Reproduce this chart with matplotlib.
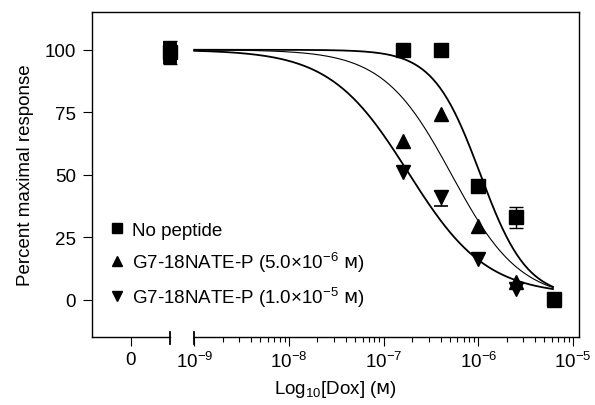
import numpy as np
import matplotlib
matplotlib.use("Agg")
import matplotlib.pyplot as plt
import matplotlib.transforms as mtransforms
from matplotlib.lines import Line2D

plt.rcParams["font.family"] = ["Liberation Sans", "DejaVu Sans"]
plt.rcParams["mathtext.fontset"] = "custom"
plt.rcParams["mathtext.rm"] = "Liberation Sans"
plt.rcParams["mathtext.it"] = "Liberation Sans:italic"
plt.rcParams["mathtext.bf"] = "Liberation Sans:bold"
plt.rcParams["mathtext.sf"] = "DejaVu Sans"  # only used for the small-cap M

# doxorubicin doses (M), 2.5-fold dilutions; first entry is the no-drug control
doses = [0.0, 1.6e-7, 4.0e-7, 1.0e-6, 2.5e-6, 6.25e-6]

resp_none = [99.0, 100.0, 100.0, 45.5, 33.0, 0.2]
err_none = [4.6, 0.0, 0.0, 0.0, 4.2, 0.0]
resp_p5 = [100.0, 63.4, 74.5, 29.4, 7.0, 0.0]
resp_p10 = [98.5, 51.0, 41.0, 16.4, 4.5, 0.0]
err_p10_low = [0.0, 0.0, 3.6, 0.0, 0.0, 0.0]
err_p10_up = [0.0, 0.0, 2.6, 0.0, 0.0, 0.0]

# fitted dose-response curves: (log10 IC50, hill slope, bottom)
fit_none = (-5.98, 1.75, 1.0)
fit_p5 = (-6.28, 1.2, 0.0)
fit_p10 = (-6.74, 1.05, 2.0)

labels = ["No peptide",
          r"G7-18NATE-P (5.0×10$^{-6}$ $\mathsf{ᴍ}$)",
          r"G7-18NATE-P (1.0×10$^{-5}$ $\mathsf{ᴍ}$)"]

zero_pos = 10 ** -9.257   # where the 0-dose points sit on the log axis
zero_tick = 10 ** -9.672  # where the "0" label sits
x_lo, x_hi = 10 ** -10.08, 10 ** -4.936


def hill(logx, params):
    """Four-parameter logistic with top fixed at 100."""
    logic50, h, bottom = params
    return bottom + (100.0 - bottom) / (1.0 + 10 ** ((logx - logic50) * h))


def xpos(d):
    return [zero_pos if v == 0 else v for v in d]


fig = plt.figure(figsize=(5.95, 4.06), dpi=100)
ax = fig.add_axes([0.1546, 0.1687, 0.8184, 0.7993])

logx = np.linspace(-9.0, -5.21, 300)
ax.plot(10 ** logx, hill(logx, fit_none), color="k", lw=1.3, zorder=2)
ax.plot(10 ** logx, hill(logx, fit_p5), color="k", lw=0.8, zorder=2)
ax.plot(10 ** logx, hill(logx, fit_p10), color="k", lw=1.3, zorder=2)

xs = xpos(doses)
ms = 9.5
ax.plot(xs, resp_p5, "^", color="k", ms=ms, zorder=3)
ax.plot(xs, resp_p10, "v", color="k", ms=ms, zorder=3)
ax.plot(xs, resp_none, "s", color="k", ms=ms, zorder=4)

# error bars only where the SEM is visible
for x, y, e in zip(xs, resp_none, err_none):
    if e > 0:
        lw = 10 if x == zero_pos else 1.0  # control replicates form a solid block
        ax.errorbar([x], [y], yerr=[e], fmt="none", ecolor="k", elinewidth=lw,
                    capsize=4.7, capthick=1.0, zorder=4)
for x, y, lo, up in zip(xs, resp_p10, err_p10_low, err_p10_up):
    if lo > 0 or up > 0:
        ax.errorbar([x], [y], yerr=[[lo], [up]], fmt="none", ecolor="k",
                    elinewidth=1.0, capsize=4.7, capthick=1.2, zorder=3)

ax.set_xscale("log")
ax.set_xlim(x_lo, x_hi)
ax.set_ylim(-14.6, 115.1)

ax.set_yticks([0, 25, 50, 75, 100])
ax.set_xticks([zero_tick, 1e-9, 1e-8, 1e-7, 1e-6, 1e-5])
ax.set_xticklabels(["0", "$10^{-9}$", "$10^{-8}$", "$10^{-7}$", "$10^{-6}$", "$10^{-5}$"])
minors = [k * 10.0 ** e for e in range(-9, -5) for k in range(2, 10)]
ax.set_xticks(minors, minor=True)
ax.xaxis.set_minor_formatter(matplotlib.ticker.NullFormatter())

ax.tick_params(axis="both", which="major", length=6.5, width=0.8,
               labelsize=13.5, pad=4, color="k")
ax.tick_params(axis="y", which="major", pad=5)
ax.tick_params(axis="x", which="minor", length=3.6, width=0.8)

for s in ["left", "top", "right"]:
    ax.spines[s].set_linewidth(1.0)
ax.spines["bottom"].set_visible(False)

# broken bottom axis
trans = mtransforms.blended_transform_factory(ax.transData, ax.transAxes)
ax.plot([x_lo, zero_pos], [0, 0], color="k", lw=1.0, transform=trans, clip_on=False)
ax.plot([1e-9, x_hi], [0, 0], color="k", lw=1.0, transform=trans, clip_on=False)
for xb in (zero_pos, 1e-9):
    ax.plot([xb, xb], [0.014, -0.024], color="k", lw=1.3, transform=trans,
            clip_on=False)

ax.set_xlabel(r"Log$_{10}$[Dox] ($\mathsf{ᴍ}$)", fontsize=13.5, labelpad=5)
ax.set_ylabel("Percent maximal response", fontsize=13.5, labelpad=8)

handles = [Line2D([], [], ls="none", marker=m, color="k", ms=7.5)
           for m in ("s", "^", "v")]
ax.legend(handles, labels, loc="center left", bbox_to_anchor=(0.035, 0.22),
          frameon=False, fontsize=13.5, handlelength=0.8, handletextpad=0.4,
          labelspacing=0.58, borderpad=0, borderaxespad=0)

fig.savefig("out.png", dpi=100)
